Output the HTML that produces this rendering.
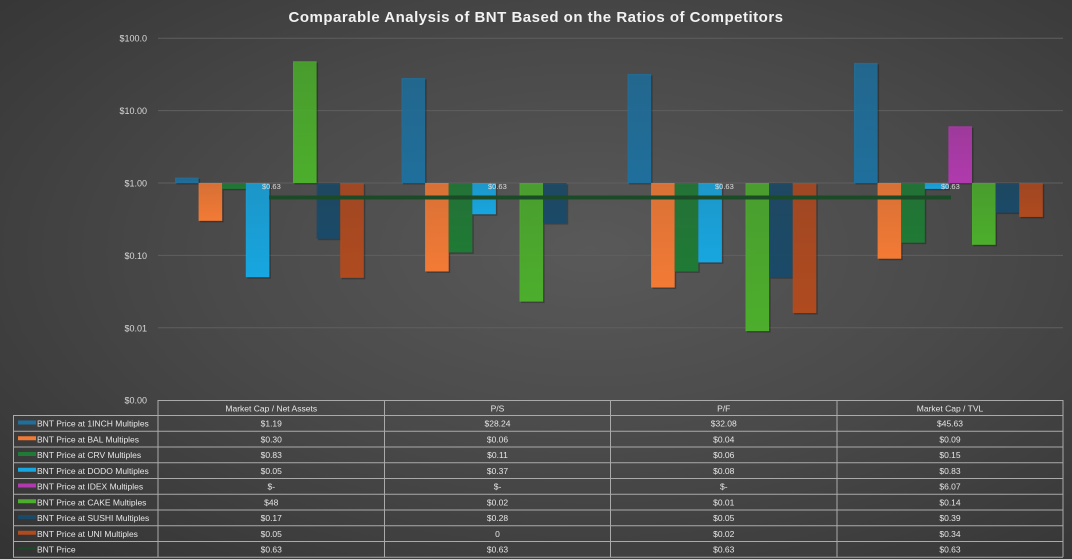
<!DOCTYPE html>
<html><head><meta charset="utf-8"><style>
html,body{margin:0;padding:0;}
body{width:1072px;height:559px;overflow:hidden;background:radial-gradient(ellipse at 55% 45%,#595959 0%,#4a4a4a 45%,#333 100%);font-family:"Liberation Sans",sans-serif;}
svg{position:absolute;left:0;top:0;}
</style></head><body>
<svg id="s" width="1072" height="559" xmlns="http://www.w3.org/2000/svg">
<defs id="d"></defs>
<text x="536" y="22" text-anchor="middle" fill="#f2f2f2" font-size="15" font-weight="bold" font-family="Liberation Sans, sans-serif" letter-spacing="0.5">Comparable Analysis of BNT Based on the Ratios of Competitors</text>
<g id="g"></g>
</svg>
<script>
const NS="http://www.w3.org/2000/svg";
const g=document.getElementById('g'),d=document.getElementById('d');
function el(t,a,p){const e=document.createElementNS(NS,t);for(const k in a)e.setAttribute(k,a[k]);(p||g).appendChild(e);return e;}
const Y=v=>183-72.4*Math.log10(v);
[[100,'$100.0'],[10,'$10.00'],[1,'$1.00'],[0.1,'$0.10'],[0.01,'$0.01'],[0.001,'$0.00']].forEach(([v,l])=>{
 const y=Y(v);
 if(v>0.001) el('line',{x1:158,x2:1063,y1:y,y2:y,stroke:'#5f5f5f','stroke-width':1});
 const t=el('text',{x:147,y:y+3.5,'text-anchor':'end',fill:'#d9d9d9','font-size':9});t.textContent=l;
});
const cols=['#1f6f9c','#f37a35','#1f7a35','#17a6e0','#b03aad','#4cae2c','#1a4a68','#b04a1f'];
cols.forEach((c,i)=>{const lg=el('linearGradient',{id:'c'+i,x1:0,y1:0,x2:0,y2:1},d);
 el('stop',{offset:0,'stop-color':c,'stop-opacity':0.85},lg);el('stop',{offset:1,'stop-color':c},lg);});
const data=[[1.19,0.30,0.83,0.05,null,48,0.17,0.049],
[28.24,0.06,0.11,0.37,null,0.023,0.28,null],
[32.08,0.036,0.06,0.08,null,0.009,0.05,0.016],
[45.63,0.09,0.15,0.83,6.07,0.14,0.39,0.34]];
const cx=[158,384.5,610.5,837];
data.forEach((row,ci)=>{row.forEach((v,i)=>{if(v==null)return;
 const x=cx[ci]+17+i*23.6,y=Y(v),top=Math.min(y,183),h=Math.abs(y-183);
 el('rect',{x:x+1.5,y:top+1.5,width:23.6,height:h,fill:'rgba(0,0,0,0.25)'});
 el('rect',{x:x,y:top,width:23.6,height:h,fill:'url(#c'+i+')'});
});});
const ly=Y(0.63);
el('line',{x1:269,x2:951,y1:ly,y2:ly,stroke:'#1a4a26','stroke-width':4});
[262,488,715,941].forEach(x=>{const t=el('text',{x:x,y:189,fill:'#ddd','font-size':7.5});t.textContent='$0.63';});
const rows=[['BNT Price at 1INCH Multiples','$1.19','$28.24','$32.08','$45.63'],
['BNT Price at BAL Multiples','$0.30','$0.06','$0.04','$0.09'],
['BNT Price at CRV Multiples','$0.83','$0.11','$0.06','$0.15'],
['BNT Price at DODO Multiples','$0.05','$0.37','$0.08','$0.83'],
['BNT Price at IDEX Multiples','$-','$-','$-','$6.07'],
['BNT Price at CAKE Multiples','$48','$0.02','$0.01','$0.14'],
['BNT Price at SUSHI Multiples','$0.17','$0.28','$0.05','$0.39'],
['BNT Price at UNI Multiples','$0.05','0','$0.02','$0.34'],
['BNT Price','$0.63','$0.63','$0.63','$0.63']];
const lc=['#1f6f9c','#f37a35','#1f7a35','#17a6e0','#b03aad','#4cae2c','#1a4a68','#b04a1f','#1a4a26'];
const hdr=['Market Cap / Net Assets','P/S','P/F','Market Cap / TVL'];
const bx=[158,384.5,610.5,837,1063];
const st={stroke:'#aaa','stroke-width':1,fill:'none'};
el('line',Object.assign({x1:158,x2:1063,y1:400.5,y2:400.5},st));
bx.forEach(x=>el('line',Object.assign({x1:x,x2:x,y1:400,y2:557},st)));
hdr.forEach((h,i)=>{const t=el('text',{x:(bx[i]+bx[i+1])/2,y:411.5,'text-anchor':'middle',fill:'#e6e6e6','font-size':8.5});t.textContent=h;});
const rh=15.75;
for(let r=0;r<=9;r++){const y=415.5+r*rh;el('line',Object.assign({x1:13,x2:1063,y1:y,y2:y},st));}
el('line',Object.assign({x1:13.5,x2:13.5,y1:415,y2:557},st));
rows.forEach((row,r)=>{const y=415.5+r*rh+11;
 if(r<8) el('rect',{x:18,y:y-6,width:18,height:4,fill:lc[r]}); else el('line',{x1:18,x2:36,y1:y-4,y2:y-4,stroke:lc[r],'stroke-width':2.5});
 let t=el('text',{x:37,y:y,fill:'#e6e6e6','font-size':8.5});t.textContent=row[0];
 for(let i=1;i<5;i++){t=el('text',{x:(bx[i-1]+bx[i])/2,y:y,'text-anchor':'middle',fill:'#e6e6e6','font-size':8.5});t.textContent=row[i];}
});
</script>
</body></html>
